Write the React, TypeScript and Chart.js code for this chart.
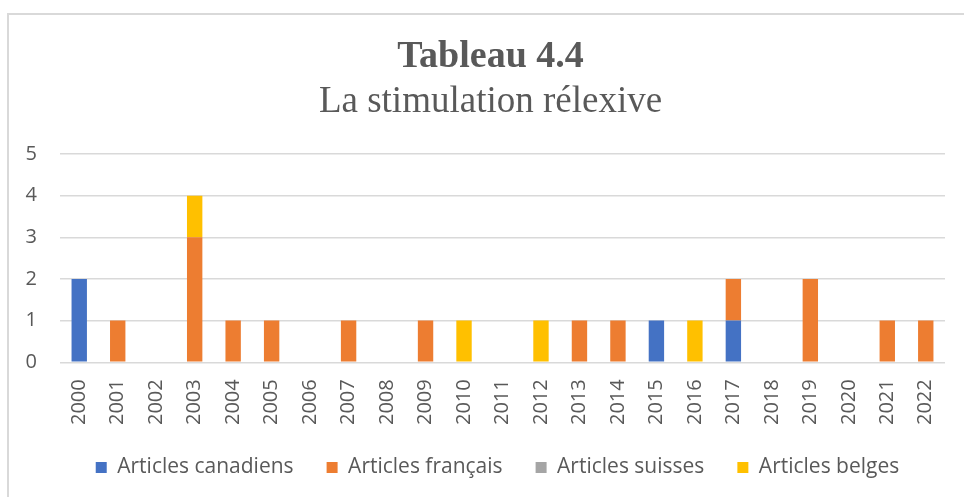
import React, { useEffect, useRef } from "react";
import { Chart, registerables } from "chart.js";

Chart.register(...registerables);

const years = ["2000","2001","2002","2003","2004","2005","2006","2007","2008","2009","2010","2011","2012","2013","2014","2015","2016","2017","2018","2019","2020","2021","2022"];
const canadiens = [2,0,0,0,0,0,0,0,0,0,0,0,0,0,0,1,0,1,0,0,0,0,0];
const francais  = [0,1,0,3,1,1,0,1,0,1,0,0,0,1,1,0,0,1,0,2,0,1,1];
const suisses   = [0,0,0,0,0,0,0,0,0,0,0,0,0,0,0,0,0,0,0,0,0,0,0];
const belges    = [0,0,0,1,0,0,0,0,0,0,1,0,1,0,0,0,1,0,0,0,0,0,0];
const yTicks = [0,1,2,3,4,5];

const FONT = "'Open Sans', 'Liberation Sans', sans-serif";
const TEXT = "#595959";

const legendShift = {
  id: "legendShift",
  afterLayout(chart: any) {
    const l = chart.legend;
    if (!l) return;
    l.top -= 10;
    l.bottom -= 10;
    l.left += 7;
    l.right += 7;
  },
};

export default function App() {
  const ref = useRef<HTMLCanvasElement | null>(null);
  useEffect(() => {
    if (!ref.current) return;
    const mk = (label: string, data: number[], color: string) => ({
      label,
      data: data.map((v) => (v === 0 ? null : v)),
      backgroundColor: color,
      borderWidth: 0,
      barPercentage: 0.8,
      categoryPercentage: 0.5,
      yAxisID: "y",
    });
    const chart = new Chart(ref.current, {
      type: "bar",
      data: {
        labels: years,
        datasets: [
          mk("Articles canadiens", canadiens, "#4472C4"),
          mk("Articles français", francais, "#ED7D31"),
          mk("Articles suisses", suisses, "#A5A5A5"),
          mk("Articles belges", belges, "#FFC000"),
        ],
      },
      plugins: [legendShift],
      options: {
        animation: false,
        responsive: false,
        maintainAspectRatio: false,
        layout: { padding: { left: 14, right: -3, top: 18, bottom: -1 } },
        plugins: {
          title: {
            display: true,
            text: "Tableau 4.4",
            color: TEXT,
            font: { family: "'Liberation Serif', serif", size: 38, weight: "bold" },
            padding: { top: 16, bottom: 0 },
          },
          subtitle: {
            display: true,
            text: "La stimulation rélexive",
            color: TEXT,
            font: { family: "'Liberation Serif', serif", size: 37, weight: "normal" },
            padding: { top: 0, bottom: 30 },
          },
          legend: {
            position: "bottom",
            labels: {
              color: TEXT,
              font: { family: FONT, size: 21 },
              boxWidth: 11,
              boxHeight: 11,
              padding: 33,
            },
          },
          tooltip: { enabled: false },
        },
        scales: {
          x: {
            stacked: true,
            grid: { display: false },
            border: { display: false },
            ticks: {
              color: TEXT,
              font: { family: FONT, size: 20 },
              maxRotation: 90,
              minRotation: 90,
              autoSkip: false,
              padding: 9,
            },
          },
          y: {
            stacked: true,
            position: "left",
            min: 0,
            max: 5,
            afterBuildTicks: (axis: any) => {
              axis.ticks = yTicks.map((v) => ({ value: v }));
            },
            afterFit: (axis: any) => {
              axis.width = 46;
            },
            grid: { color: "#D9D9D9", lineWidth: 1.5, drawTicks: false },
            border: { display: false },
            ticks: {
              color: TEXT,
              font: { family: FONT, size: 20 },
              padding: 23,
            },
          },
          yRight: {
            position: "right",
            display: true,
            min: 0,
            max: 5,
            grid: { display: false },
            border: { display: false },
            ticks: { display: false },
            afterFit: (axis: any) => {
              axis.width = 22;
            },
          },
        },
      },
    });
    return () => chart.destroy();
  }, []);
  return (
    <div style={{ position: "fixed", left: 0, top: 0, width: 964, height: 497, background: "#fff" }}>
      <div
        style={{
          position: "absolute",
          left: 7,
          top: 13,
          right: 0,
          bottom: 0,
          borderLeft: "2px solid #D9D9D9",
          borderTop: "2px solid #D9D9D9",
        }}
      />
      <canvas ref={ref} width={964} height={497} style={{ position: "absolute", left: 0, top: 0 }} />
    </div>
  );
}
